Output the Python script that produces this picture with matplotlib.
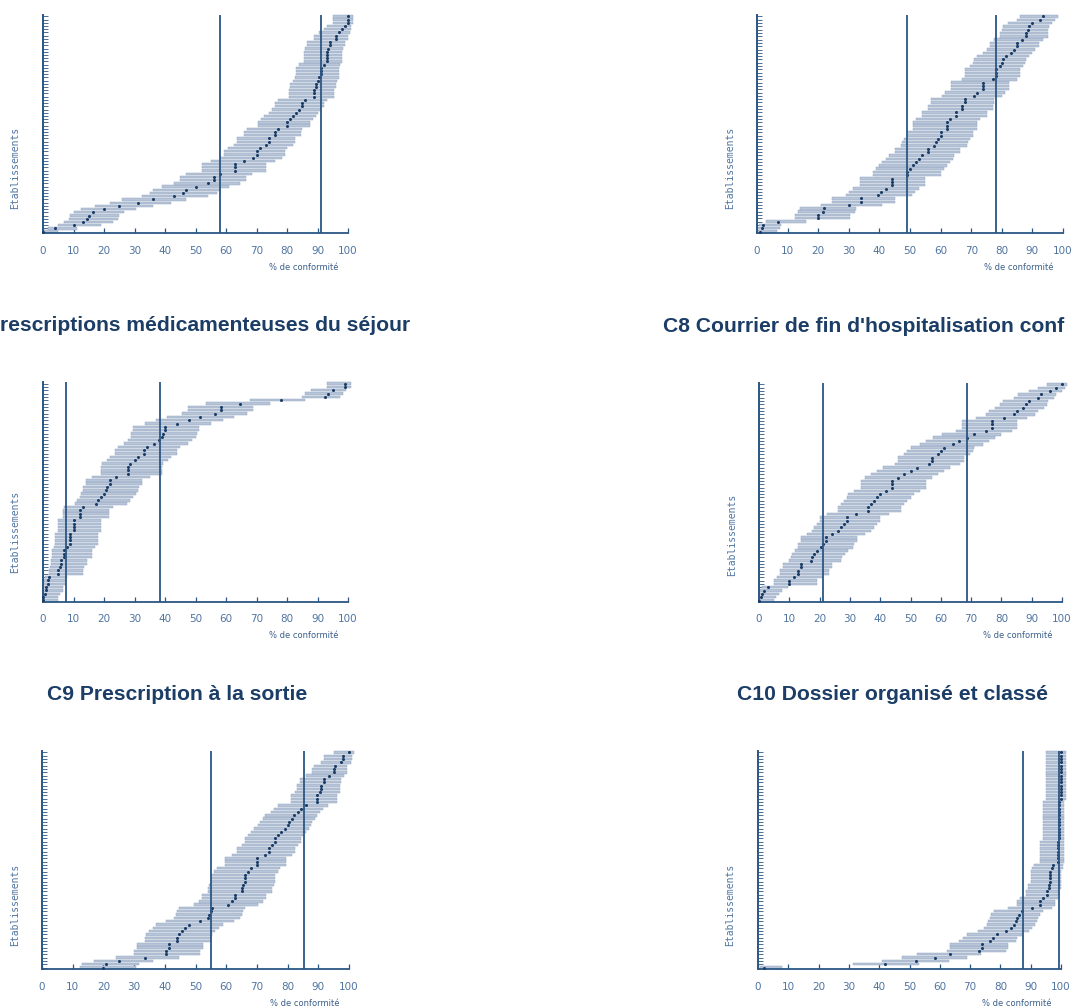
import matplotlib
matplotlib.use('Agg')
import matplotlib.pyplot as plt

W, H = 1072, 1006

# ---------------------------------------------------------------------------
# scores (sorted, bottom row first) and 95% CI
tl_score = [0, 4, 10, 13, 14.5, 15, 16.5, 20, 25, 31, 36, 43, 46, 47, 50, 54, 56, 56, 58, 63,
            63, 63, 66, 69, 70, 70, 71, 73, 74, 74, 76, 76, 77, 80, 80, 81, 82, 83, 84, 85,
            85, 86, 89, 89, 89, 89.5, 89.5, 90, 90.5, 91, 91, 91, 92, 93, 93, 93, 93, 93.5, 94, 94,
            96, 96, 97, 98, 99, 100, 100, 100]
tl_low = [0, 1.5, 5, 7, 8.5, 9, 10, 12.5, 17, 22, 26, 32.5, 35, 36, 39, 43, 45, 45, 47, 52,
          52, 52, 55, 58, 59.5, 59.5, 60.5, 62.5, 63.5, 63.5, 66, 66, 67, 70.5, 70.5, 71.5, 72.5, 74, 75, 76,
          76, 77, 80.5, 80.5, 80.5, 81, 81, 82, 82.5, 83, 83, 83, 84, 85.5, 85.5, 85.5, 85.5, 86, 86.5, 86.5,
          89, 89, 90.5, 92, 93, 95, 95, 95]
tl_high = [5, 11, 19, 23, 24.5, 25, 26.5, 30.5, 36, 42, 47, 54, 57, 58, 61, 64.5, 66.5, 66.5, 68.5, 73,
           73, 73, 76, 78.5, 79.5, 79.5, 80, 82, 82.5, 82.5, 84.5, 84.5, 85, 87.5, 87.5, 88.5, 89.5, 90, 91, 92,
           92, 93, 95.5, 95.5, 95.5, 96, 96, 96.5, 97, 97, 97, 97, 97.5, 98, 98, 98, 98, 98.5, 99, 99,
           100, 100, 100.5, 101, 101, 101.5, 101.5, 101.5]
tl_refs = [58, 91]

tr_score = [1, 1.5, 2, 7, 20, 20, 21.5, 22, 30, 34, 34, 39.5, 40.5, 42, 44, 44, 44, 49, 49, 50,
            51, 52, 53, 54, 56, 56, 58, 58.5, 59, 60, 60, 62, 62, 62, 63, 65, 65, 67, 67, 68,
            68, 71, 72, 74, 74, 74, 77, 78, 78, 78, 79.5, 80, 80.5, 81.5, 83, 84, 85, 85, 86.5, 88,
            88, 88.5, 89, 90, 92.5, 93.5]
tr_low = [0, 0.2, 0.5, 3, 12.5, 12.5, 13.5, 14, 21, 24.5, 24.5, 29, 30, 31.5, 33.5, 33.5, 33.5, 38, 38, 39,
          40, 41, 42, 43, 45, 45, 47, 47.5, 48, 49, 49, 51, 51, 51, 52, 54, 54, 56, 56, 57,
          57, 60.5, 61.5, 63.5, 63.5, 63.5, 67, 68, 68, 68, 69.5, 70.5, 71, 72, 74, 75, 76, 76, 77.5, 79.5,
          79.5, 80, 80.5, 82, 85, 86]
tr_high = [6.5, 7.5, 8, 16, 30.5, 30.5, 32, 32.5, 41, 45, 45, 50.5, 51.5, 53, 55, 55, 55, 60, 60, 61,
           62, 63, 64, 64.5, 66.5, 66.5, 68.5, 69, 69.5, 70.5, 70.5, 72, 72, 72, 73, 75, 75, 77, 77, 77.5,
           77.5, 80, 81, 82.5, 82.5, 82.5, 85, 86, 86, 86, 87, 87.5, 88, 89, 90, 91, 92, 92, 93.5, 95,
           95, 95, 95.5, 96.5, 97.5, 98.5]
tr_refs = [49, 78]

c7_score = [0, 0, 0.5, 1, 1, 1.5, 1.5, 2, 5, 5, 5.5, 6, 6, 7, 7, 7, 8, 9, 9, 9,
            9, 10, 10, 10, 10, 12, 12, 12, 13, 17.5, 18, 19, 20, 20.5, 21, 22, 22, 24, 28, 28,
            28, 28.5, 30, 31, 33, 33, 34, 36.5, 38, 39, 39.5, 40, 40, 44, 48, 51.5, 56.5, 58.5, 58.5, 64.5,
            78, 92.5, 93.5, 95, 99, 99]
c7_low = [0, 0, 0, 0, 0, 0.2, 0.2, 0.5, 2, 2, 2.2, 2.5, 2.5, 3, 3, 3, 3.5, 4, 4, 4,
          4, 5, 5, 5, 5, 6.5, 6.5, 6.5, 7, 10.5, 11, 12, 12.5, 13, 13, 14, 14, 16, 19, 19,
          19, 19.5, 21, 22, 23.5, 23.5, 24.5, 26.5, 28, 29, 29, 29.5, 29.5, 33.5, 37, 40.5, 45.5, 47.5, 47.5, 53.5,
          68, 85, 86, 88, 93, 93]
c7_high = [5, 5, 5.5, 6.5, 6.5, 7.5, 7.5, 8, 13, 13, 13.5, 14.5, 14.5, 16, 16, 16, 17, 18, 18, 18,
           18, 19, 19, 19, 19, 21.5, 21.5, 21.5, 23, 27.5, 28.5, 29.5, 30.5, 31, 31.5, 32.5, 32.5, 35, 39, 39,
           39, 39.5, 41, 42, 44, 44, 45, 47.5, 49, 50, 50.5, 51, 51, 55, 59, 62.5, 67, 69, 69, 74.5,
           86, 97.5, 98.5, 99.5, 101, 101]
c7_refs = [7.5, 38.5]

c8_score = [0, 0.5, 1, 1.5, 3, 10, 10, 11.5, 13, 13, 14, 14, 17, 17.5, 18, 19, 20.5, 21, 22, 22,
            24, 26, 27, 28, 29, 29, 32, 36, 36, 37, 38, 39, 40, 42, 44, 44, 44, 46, 48, 50,
            52, 56, 57, 57, 59, 60, 61, 64, 66, 68.5, 71, 75, 77, 77, 77, 81, 84, 85, 87, 88,
            89, 92, 93, 96, 98, 100]
c8_low = [0, 0, 0, 0.2, 1, 5, 5, 6, 7, 7, 8, 8, 10, 10.5, 11, 12, 13, 13, 14, 14,
          16, 17.5, 18, 19, 20, 20, 22.5, 26, 26, 27, 28, 29, 29.5, 31.5, 33.5, 33.5, 33.5, 35, 37, 39,
          41, 45, 46, 46, 48, 49, 50, 53, 55, 57.5, 60.5, 65, 67, 67, 67, 71.5, 75, 76, 78, 79.5,
          80.5, 84, 85.5, 89, 92, 95]
c8_high = [5, 5.5, 6.5, 7.5, 9.5, 19, 19, 21, 23, 23, 24, 24, 27, 27.5, 28.5, 29.5, 31, 31.5, 32.5, 32.5,
           35, 37, 38, 39, 40, 40, 43, 47, 47, 48, 49, 50, 51, 53, 55, 55, 55, 57, 59, 61,
           63, 66.5, 67.5, 67.5, 69.5, 70.5, 71, 74, 76, 78, 80, 83.5, 85, 85, 85, 88.5, 91, 92, 94, 95,
           95.5, 97.5, 98, 100, 101, 101.5]
c8_refs = [21, 68.5]

c9_score = [20, 21, 25, 33.5, 40.5, 40.5, 41.5, 41.5, 44, 44, 44.5, 45.5, 46.5, 48, 51.5, 54, 54.5, 55, 55.5, 60.5,
            62, 63, 63, 65, 65, 65.5, 66, 66, 66, 67, 68, 70, 70, 70, 72.5, 74, 74, 75, 76, 76,
            77, 78, 79, 80, 80.5, 81.5, 82, 83.5, 84.5, 86, 89.5, 89.5, 89.5, 90.5, 91, 91, 92, 92, 93.5, 95,
            95, 95.5, 97.5, 98, 98, 100]
c9_low = [12.5, 13, 17, 24, 30, 30, 31, 31, 33.5, 33.5, 34, 35, 36, 37, 40.5, 43, 43.5, 44, 44.5, 49.5,
          51, 52, 52, 54, 54, 54.5, 55, 55, 55, 56, 57, 59.5, 59.5, 59.5, 62, 63.5, 63.5, 65, 66, 66,
          67, 68, 69, 70.5, 71, 72, 72.5, 74.5, 75.5, 77, 81, 81, 81, 82.5, 83, 83, 84, 84, 86, 88,
          88, 88.5, 91, 92, 92, 95]
c9_high = [30.5, 31.5, 36, 44.5, 51.5, 51.5, 52.5, 52.5, 55, 55, 55.5, 56.5, 57.5, 59, 62.5, 64.5, 65, 65.5, 66, 70.5,
           72, 73, 73, 75, 75, 75.5, 76, 76, 76, 77, 77.5, 79.5, 79.5, 79.5, 81.5, 82.5, 82.5, 83.5, 84.5, 84.5,
           85, 86, 87, 87.5, 88, 89, 89.5, 90.5, 91.5, 93, 96, 96, 96, 97, 97, 97, 97.5, 97.5, 98.5, 99.5,
           99.5, 99.5, 100.5, 101, 101, 101.5]
c9_refs = [55, 85.5]

c10_score = [2, 42, 52, 58.5, 63.5, 73, 74, 74, 76.5, 77.5, 79, 82, 83.5, 84.5, 85, 85.5, 86, 87, 90.5, 93,
             93, 94, 95.5, 95.5, 96, 96, 96.5, 96.5, 96.5, 96.5, 97, 97.5, 99, 99, 99, 99, 99, 99, 99, 99.5,
             99.5, 99.5, 99.5, 99.5, 99.5, 99.5, 99.5, 99.5, 99.5, 99.5, 99.5, 100, 100, 100, 100, 100, 100, 100, 100, 100,
             100, 100, 100, 100, 100, 100]
c10_low = [0.5, 31.5, 41, 47.5, 52.5, 62.5, 63.5, 63.5, 66.5, 67.5, 69, 72.5, 74.5, 75.5, 76, 76.5, 77, 78, 82.5, 85.5,
           85.5, 86.5, 88.5, 88.5, 89, 89, 90, 90, 90, 90, 90.5, 91, 93, 93, 93, 93, 93, 93, 93, 94,
           94, 94, 94, 94, 94, 94, 94, 94, 94, 94, 94, 95, 95, 95, 95, 95, 95, 95, 95, 95,
           95, 95, 95, 95, 95, 95]
c10_high = [8, 53, 63, 69, 73.5, 82, 82.5, 82.5, 85, 85.5, 87, 89.5, 90.5, 91.5, 92, 92.5, 93, 94, 97, 98,
            98, 99, 99.5, 99.5, 100, 100, 100, 100, 100, 100, 100.5, 100.5, 101, 101, 101, 101, 101, 101, 101, 101,
            101, 101, 101, 101, 101, 101, 101, 101, 101, 101, 101, 101.5, 101.5, 101.5, 101.5, 101.5, 101.5, 101.5, 101.5, 101.5,
            101.5, 101.5, 101.5, 101.5, 101.5, 101.5]
c10_refs = [87.5, 99.5]

x_ticks = [0, 10, 20, 30, 40, 50, 60, 70, 80, 90, 100]
x_label = "% de conformité"
y_label = "Etablissements"

# ---------------------------------------------------------------------------
dark = '#2b5683'
navy = '#1b3d66'
light = '#4f74a0'
bar_face = '#b8c4d7'
bar_edge = '#95a8c3'

fig = plt.figure(figsize=(W / 100, H / 100), dpi=100)
fig.patch.set_facecolor('white')


def px_axes(x0, x1, ytop, ybase):
    return fig.add_axes([x0 / W, 1 - ybase / H, (x1 - x0) / W, (ybase - ytop) / H])


def panel(box, score, low, high, refs, ylab_xy):
    ax = px_axes(*box)
    n = len(score)
    rows = list(range(n))
    widths = [h - l for l, h in zip(low, high)]
    ax.barh(rows, widths, left=low, height=0.72, color=bar_face,
            edgecolor=bar_edge, linewidth=0.35, clip_on=False, zorder=2)
    ax.plot(score, rows, 'o', ms=2.2, color=navy, mew=0, clip_on=False, zorder=4)
    for r in refs:
        ax.axvline(r, color=dark, lw=1.3, zorder=5)
    ax.set_xlim(0, 100)
    ax.set_ylim(-0.45, n - 0.55)
    for s in ['top', 'right']:
        ax.spines[s].set_visible(False)
    ax.spines['left'].set_color(dark)
    ax.spines['left'].set_linewidth(1.4)
    ax.spines['bottom'].set_color(dark)
    ax.spines['bottom'].set_linewidth(1.3)
    ax.spines['bottom'].set_bounds(0, 100)
    ax.set_xticks(x_ticks)
    ax.set_xticklabels([str(t) for t in x_ticks])
    ax.set_yticks(rows)
    ax.set_yticklabels([])
    ax.tick_params(axis='x', direction='in', length=3.5, width=0.9, color=dark,
                   labelsize=7.5, labelcolor=light, pad=9)
    ax.tick_params(axis='y', direction='in', length=3.8, width=0.6, color=dark)
    ax.patch.set_alpha(0)
    # "% de conformité" under the right end of the axis
    ax.annotate(x_label, xy=(97, 0), xycoords=('data', 'axes fraction'),
                xytext=(0, -34), textcoords='offset pixels', ha='right', va='center',
                fontsize=6, color='#3a5f8a')
    fig.text(ylab_xy[0] / W, 1 - ylab_xy[1] / H, y_label, rotation=90,
             ha='center', va='center', family='DejaVu Sans Mono', fontsize=7, color=light)
    return ax


panel((43, 348, 15, 233), tl_score, tl_low, tl_high, tl_refs, (15, 168))
panel((757, 1063, 15, 233), tr_score, tr_low, tr_high, tr_refs, (730, 168))
panel((43, 348, 382, 602), c7_score, c7_low, c7_high, c7_refs, (15, 532))
panel((759, 1062, 383, 602), c8_score, c8_low, c8_high, c8_refs, (732, 535))
panel((42, 349, 751, 969), c9_score, c9_low, c9_high, c9_refs, (15, 905))
panel((758, 1061, 751, 969), c10_score, c10_low, c10_high, c10_refs, (730, 905))

title_kw = dict(family='Liberation Sans', weight='bold', fontsize=15.2, color=navy,
                ha='left', va='center')
fig.text(0 / W, 1 - 325 / H, "rescriptions médicamenteuses du séjour", **title_kw)
fig.text(663 / W, 1 - 327 / H, "C8 Courrier de fin d'hospitalisation conf", **title_kw)
fig.text(47 / W, 1 - 694 / H, "C9 Prescription à la sortie", **title_kw)
fig.text(737 / W, 1 - 695 / H, "C10 Dossier organisé et classé", **title_kw)

fig.savefig('out.png', dpi=100, facecolor='white')
